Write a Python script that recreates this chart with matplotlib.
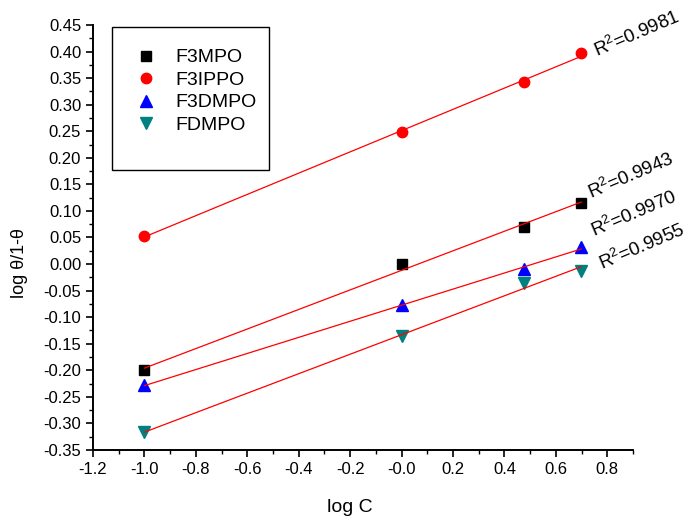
import numpy as np
import matplotlib.pyplot as plt
from matplotlib.patches import Rectangle
from matplotlib.ticker import MultipleLocator

plt.rcParams['font.family'] = ['Liberation Sans', 'DejaVu Sans']
plt.rcParams['mathtext.fontset'] = 'custom'
plt.rcParams['mathtext.rm'] = 'Liberation Sans'

# data
log_c = [-1.0, 0.0, 0.477, 0.699]
f3mpo = [-0.200, 0.000, 0.070, 0.115]
f3ippo = [0.053, 0.248, 0.342, 0.397]
f3dmpo = [-0.228, -0.078, -0.010, 0.033]
fdmpo = [-0.317, -0.135, -0.035, -0.013]
names = ["F3MPO", "F3IPPO", "F3DMPO", "FDMPO"]
r2_labels = ["0.9943", "0.9981", "0.9970", "0.9955"]
label_pos = [(0.745, 0.115), (0.765, 0.382), (0.755, 0.044), (0.785, -0.018)]

series = [f3mpo, f3ippo, f3dmpo, fdmpo]
markers = ["s", "o", "^", "v"]
colors = ["black", "#ff0000", "#0000ff", "#008080"]
sizes = [6.5, 7.5, 8, 8]

fig = plt.figure(figsize=(6.96, 5.21), dpi=100)
ax = fig.add_axes([0.1336, 0.1363, 0.7759, 0.8157])

x = np.array(log_c)
for y, m, c, s, name, r2, pos in zip(series, markers, colors, sizes, names, r2_labels, label_pos):
    k, b = np.polyfit(x, y, 1)
    ax.plot([x[0], x[-1]], [k * x[0] + b, k * x[-1] + b], color="red", lw=0.9, zorder=3)
    ax.plot(x, y, ls="none", marker=m, color=c, ms=s, label=name, zorder=2)
    ax.text(pos[0], pos[1], "R$^\\mathregular{2}$=" + r2, fontsize=13.5, rotation=23,
            rotation_mode="anchor", ha="left", va="bottom")

ax.set_xlim(-1.2, 0.9)
ax.set_ylim(-0.35, 0.45)
ax.xaxis.set_major_locator(MultipleLocator(0.2))
ax.xaxis.set_minor_locator(MultipleLocator(0.1))
ax.yaxis.set_major_locator(MultipleLocator(0.05))
ax.yaxis.set_minor_locator(MultipleLocator(0.025))
ax.set_xticks(np.arange(-1.2, 0.81, 0.2))
ax.xaxis.set_major_formatter(plt.FuncFormatter(lambda v, p: f"{v:.1f}"))
ax.yaxis.set_major_formatter(plt.FuncFormatter(lambda v, p: f"{v:.2f}"))
ax.tick_params(which="major", direction="out", length=5, width=1.2, labelsize=12)
ax.tick_params(which="minor", direction="out", length=3, width=1.0)
ax.spines["top"].set_visible(False)
ax.spines["right"].set_visible(False)
ax.spines["left"].set_linewidth(1.4)
ax.spines["bottom"].set_linewidth(1.4)

ax.set_xlabel("log C", fontsize=14)
ax.set_ylabel("log \u03b8/1-\u03b8", fontsize=13)
ax.xaxis.set_label_coords(0.475, -0.115)
ax.yaxis.set_label_coords(-0.12, 0.44)

# legend box (taller than its entries, as in the original)
box = Rectangle((112, 521 - 170), 157, 143, transform=None, fill=False,
                edgecolor="black", lw=1.0, zorder=5)
fig.patches.append(box)
ax.legend(loc="upper left", bbox_to_anchor=(0.045, 0.985), frameon=False,
          fontsize=14, handletextpad=0.9, labelspacing=0.25, handlelength=1.2)

fig.savefig("out.png", dpi=100)
